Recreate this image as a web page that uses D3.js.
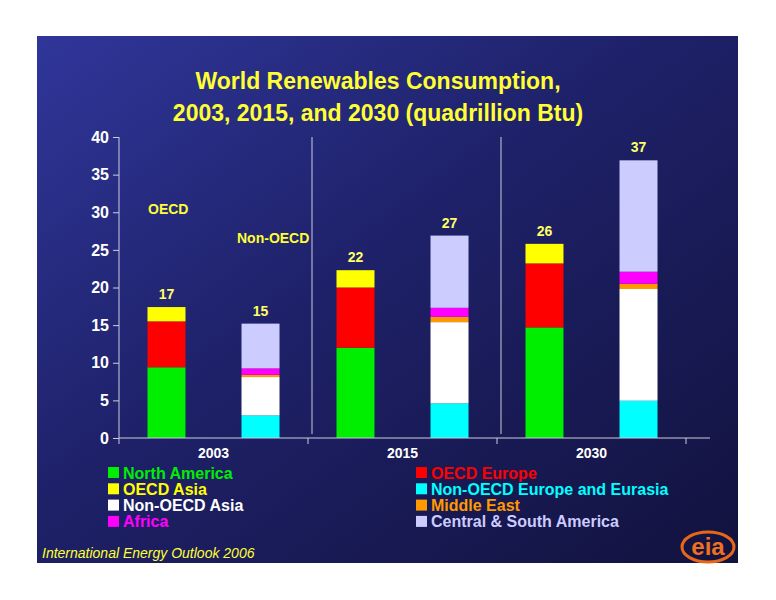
<!DOCTYPE html>
<html>
<head>
<meta charset="utf-8">
<script src="https://cdn.jsdelivr.net/npm/d3@7"></script>
<style>
  body { margin: 0; background: #fff; }
  text { font-family: Arial, 'Liberation Sans', sans-serif; }
</style>
</head>
<body>
<svg id="chart" width="776" height="600"></svg>
<script>
const years = ['2003', '2015', '2030']
const groups = ['OECD', 'Non-OECD']
const yTicks = [0, 5, 10, 15, 20, 25, 30, 35, 40]

// OECD regions
const northAmerica = [9.4, 12.0, 14.7]
const oecdEurope = [6.1, 8.0, 8.5]
const oecdAsia = [1.9, 2.3, 2.6]
// Non-OECD regions
const nonOecdEurasia = [3.0, 4.6, 4.95]
const nonOecdAsia = [5.1, 10.8, 14.85]
const middleEast = [0.3, 0.7, 0.7]
const africa = [0.85, 1.2, 1.6]
const centralSouthAmerica = [5.95, 9.6, 14.8]
const totals = { OECD: [17, 22, 26], 'Non-OECD': [15, 27, 37] }

const series = [
  { name: 'North America', group: 'OECD', values: northAmerica, color: '#00ee00' },
  { name: 'OECD Europe', group: 'OECD', values: oecdEurope, color: '#ff0000' },
  { name: 'OECD Asia', group: 'OECD', values: oecdAsia, color: '#ffff00' },
  { name: 'Non-OECD Europe and Eurasia', group: 'Non-OECD', values: nonOecdEurasia, color: '#00ffff' },
  { name: 'Non-OECD Asia', group: 'Non-OECD', values: nonOecdAsia, color: '#ffffff' },
  { name: 'Middle East', group: 'Non-OECD', values: middleEast, color: '#ff9900' },
  { name: 'Africa', group: 'Non-OECD', values: africa, color: '#ff00ff' },
  { name: 'Central & South America', group: 'Non-OECD', values: centralSouthAmerica, color: '#ccccff' },
]

const svg = d3.select('#chart')

const defs = svg.append('defs')
const bg = defs.append('linearGradient').attr('id', 'bg')
  .attr('x1', 0).attr('y1', 0).attr('x2', 1).attr('y2', 1)
bg.selectAll('stop')
  .data([{ o: 0, c: '#30369a' }, { o: 0.45, c: '#1e2168' }, { o: 1, c: '#12123e' }])
  .join('stop').attr('offset', d => d.o).attr('stop-color', d => d.c)

svg.append('rect').attr('x', 37).attr('y', 36).attr('width', 701).attr('height', 527)
  .attr('fill', 'url(#bg)')

// title
svg.append('text').attr('x', 378).attr('y', 89).attr('text-anchor', 'middle')
  .attr('fill', '#ffff33').attr('font-weight', 'bold').attr('font-size', 23)
  .text('World Renewables Consumption,')
svg.append('text').attr('x', 378).attr('y', 121).attr('text-anchor', 'middle')
  .attr('fill', '#ffff33').attr('font-weight', 'bold').attr('font-size', 23)
  .text('2003, 2015, and 2030 (quadrillion Btu)')

const x0 = d3.scaleBand().domain(years).range([119, 686])
const x1 = d3.scaleBand().domain(groups).range([0, x0.bandwidth()])
  .paddingInner(0.596).paddingOuter(0.303)
const y = d3.scaleLinear().domain([0, 40]).range([438, 137])

// dividers
svg.append('g').selectAll('line').data(years.slice(1)).join('line')
  .attr('x1', d => x0(d) + 4).attr('x2', d => x0(d) + 4)
  .attr('y1', 137).attr('y2', 434)
  .attr('stroke', '#ccccdd').attr('stroke-width', 1)

// bars
const bars = svg.append('g')
years.forEach((yr, i) => {
  groups.forEach(g => {
    const ss = series.filter(s => s.group === g)
    let base = 0
    ss.forEach(s => {
      const v = s.values[i]
      bars.append('rect')
        .attr('x', x0(yr) + x1(g))
        .attr('width', x1.bandwidth())
        .attr('y', y(base + v))
        .attr('height', y(base) - y(base + v))
        .attr('fill', s.color)
      base += v
    })
    bars.append('text')
      .attr('x', x0(yr) + x1(g) + x1.bandwidth() / 2)
      .attr('y', y(base) - 8)
      .attr('text-anchor', 'middle')
      .attr('fill', '#ffff66').attr('font-weight', 'bold').attr('font-size', 14)
      .text(totals[g][i])
  })
})

// axes
const yAxis = svg.append('g').attr('transform', 'translate(119,0)')
  .call(d3.axisLeft(y).tickValues(yTicks).tickSize(6).tickPadding(4))
yAxis.selectAll('text').attr('fill', '#fff').attr('font-weight', 'bold').attr('font-size', 16)
  .attr('font-family', 'Arial, Liberation Sans, sans-serif')
yAxis.selectAll('line, path').attr('stroke', '#ccccdd')
yAxis.select('path').attr('d', 'M0,137V438')

const xAxis = svg.append('g').attr('transform', 'translate(0,438)')
  .call(d3.axisBottom(x0).tickSize(0).tickPadding(10))
xAxis.select('path').attr('d', 'M119,0H710').attr('stroke', '#ccccdd')
xAxis.selectAll('text').attr('fill', '#fff').attr('font-weight', 'bold').attr('font-size', 14)
  .attr('font-family', 'Arial, Liberation Sans, sans-serif')
xAxis.selectAll('line.sep').data(years.concat(['end'])).join('line').attr('class', 'sep')
  .attr('x1', (d, i) => 119 + i * x0.step()).attr('x2', (d, i) => 119 + i * x0.step())
  .attr('y1', 0).attr('y2', 6).attr('stroke', '#ccccdd')

// group labels
svg.append('text').attr('x', 148).attr('y', 214).attr('fill', '#ffff33')
  .attr('font-weight', 'bold').attr('font-size', 14).text('OECD')
svg.append('text').attr('x', 237).attr('y', 243).attr('fill', '#ffff33')
  .attr('font-weight', 'bold').attr('font-size', 14).text('Non-OECD')

// legend
const legendOrder = ['North America', 'OECD Asia', 'Non-OECD Asia', 'Africa',
  'OECD Europe', 'Non-OECD Europe and Eurasia', 'Middle East', 'Central & South America']
const legend = svg.append('g')
legendOrder.forEach((name, i) => {
  const s = series.find(d => d.name === name)
  const lx = i < 4 ? 108 : 416
  const ly = 473 + (i % 4) * 16.3
  legend.append('rect').attr('x', lx).attr('y', ly - 6).attr('width', 11).attr('height', 11)
    .attr('fill', s.color)
  legend.append('text').attr('x', lx + 15).attr('y', ly + 5.5)
    .attr('fill', s.color).attr('font-weight', 'bold').attr('font-size', 16).text(name)
})

// footer
svg.append('text').attr('x', 42).attr('y', 558).attr('fill', '#ffff33')
  .attr('font-style', 'italic').attr('font-size', 14).text('International Energy Outlook 2006')

// eia logo
const logo = svg.append('g').attr('transform', 'translate(708,547)')
logo.append('ellipse').attr('rx', 26).attr('ry', 15).attr('fill', 'none')
  .attr('stroke', '#e8661a').attr('stroke-width', 3)
logo.append('text').attr('text-anchor', 'middle').attr('y', 8).attr('fill', '#f07020')
  .attr('font-weight', 'bold').attr('font-size', 24).text('eia')
</script>
</body>
</html>
